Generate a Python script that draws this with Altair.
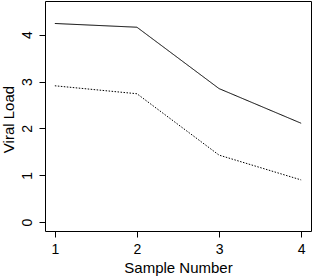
import altair as alt
import pandas as pd

samples = [1, 2, 3, 4]
series_a = [4.24, 4.16, 2.85, 2.11]
series_b = [2.91, 2.74, 1.43, 0.90]
x_ticks = [1, 2, 3, 4]
y_ticks = [0, 1, 2, 3, 4]

rows = []
for s, v in zip(samples, series_a):
    rows.append({"sample": s, "load": v, "group": "A"})
for s, v in zip(samples, series_b):
    rows.append({"sample": s, "load": v, "group": "B"})
df = pd.DataFrame(rows)

font = "Liberation Sans"

chart = alt.Chart(df).mark_line(strokeWidth=1, clip=True).encode(
    x=alt.X("sample:Q",
            scale=alt.Scale(domain=[0.88, 4.12], nice=False, zero=False),
            axis=alt.Axis(values=x_ticks, title="Sample Number", grid=False,
                          domain=False, tickSize=6, tickColor="black",
                          labelPadding=5, labelFontSize=14, labelColor="black",
                          labelFont=font, titleFont=font, titleFontSize=15,
                          titleFontWeight="normal", titleColor="black",
                          titleBaseline="alphabetic", titleY=41, titleX=133,
                          format="d")),
    y=alt.Y("load:Q",
            scale=alt.Scale(domain=[-0.19, 4.72], nice=False, zero=False),
            axis=alt.Axis(values=y_ticks, title="Viral Load", grid=False,
                          domain=False, tickSize=6, tickColor="black",
                          labelAngle=270, labelAlign="center", labelBaseline="bottom",
                          labelPadding=5, labelFontSize=14, labelColor="black",
                          labelFont=font, titleFont=font, titleFontSize=15,
                          titleFontWeight="normal", titleColor="black",
                          titleAngle=270, titleAlign="center", titleBaseline="alphabetic",
                          titleX=-32, titleY=118, format="d")),
    color=alt.Color("group:N", scale=alt.Scale(range=["black", "black"]), legend=None),
    strokeDash=alt.StrokeDash("group:N", scale=alt.Scale(range=[[1, 0], [1.5, 1.5]]), legend=None),
).properties(
    width=266,
    height=230,
    background="white",
    autosize=alt.AutoSizeParams(type="none"),
    padding={"left": 45, "top": 1, "right": 7, "bottom": 47},
).configure_view(
    stroke="black", strokeWidth=1
)

chart.save("out.html", embed_options={"renderer": "svg", "actions": False})
